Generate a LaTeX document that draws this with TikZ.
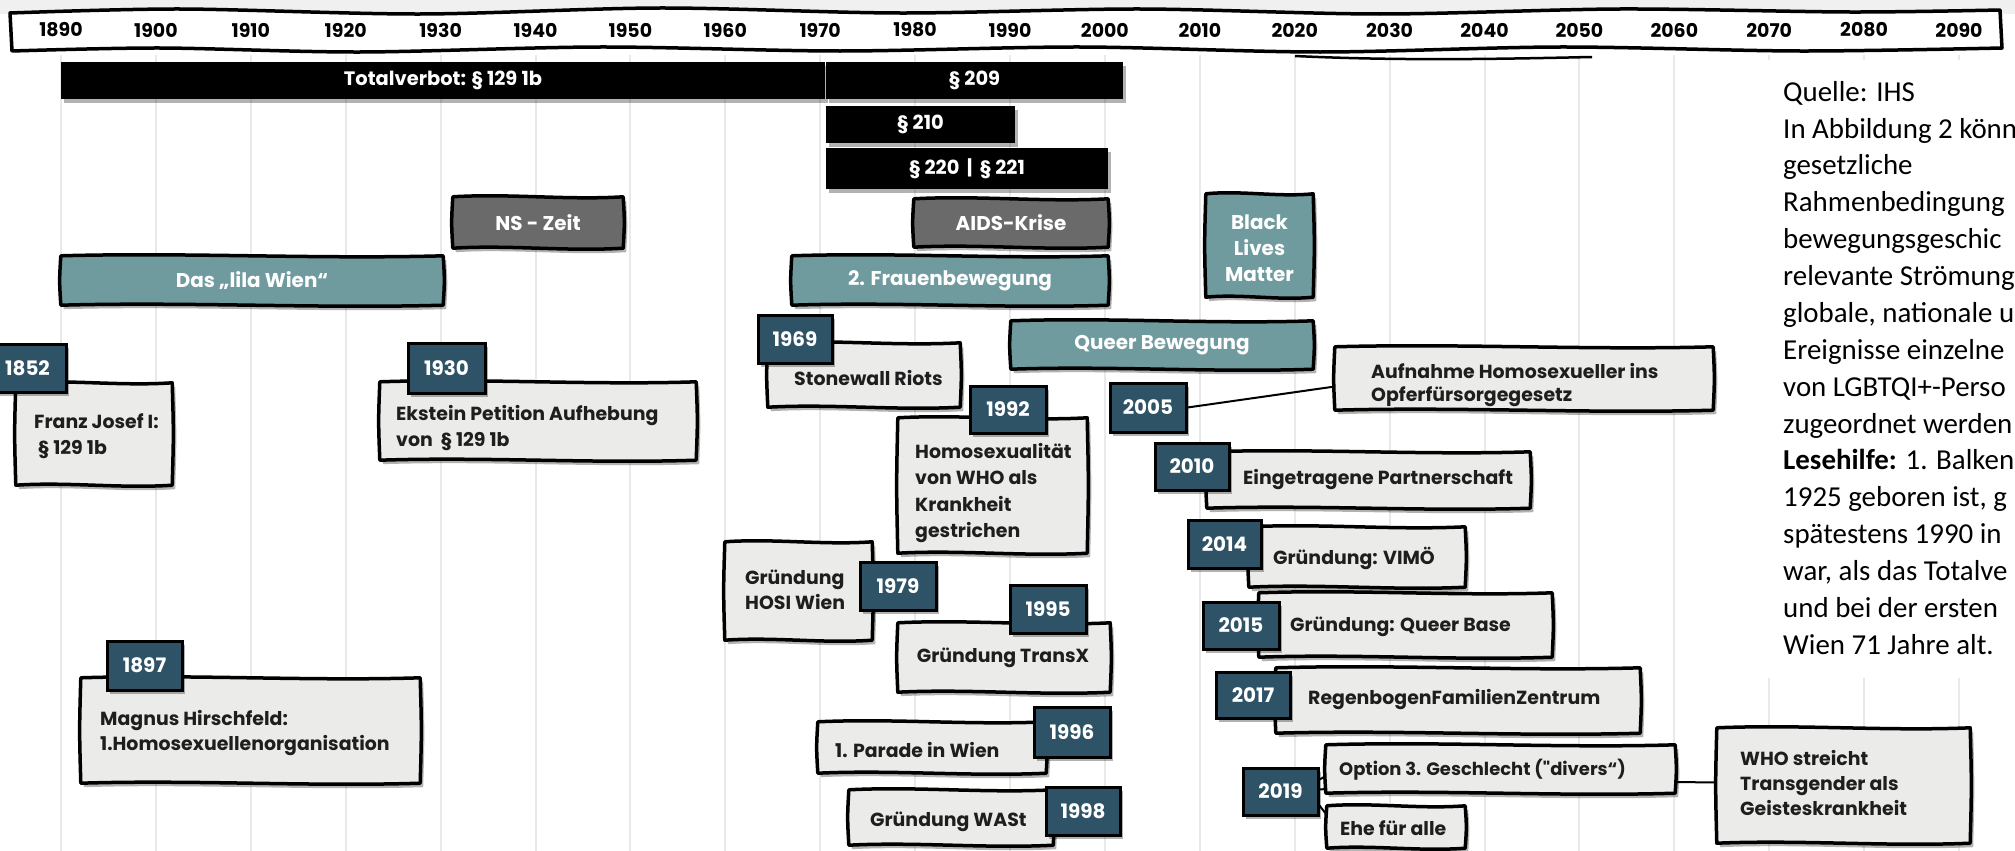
\documentclass[tikz,border=0pt]{standalone}
\usepackage{fontspec}
\setmainfont{Poppins}
\newfontfamily\popq{Poppins}[Ligatures=TeXOff]
\newfontfamily\cali{Carlito}
\usetikzlibrary{calc,shadows,fit}
\definecolor{tealc}{HTML}{6F9A9E}
\definecolor{tagblue}{HTML}{2E5266}
\definecolor{boxgray}{HTML}{EBEBE9}
\definecolor{nsgray}{HTML}{6A6A6A}
\definecolor{gridc}{HTML}{E9E9E9}
\definecolor{txt}{HTML}{1E1E1E}
\definecolor{topstrip}{HTML}{F0F0F0}

\tikzset{
 shad/.style={drop shadow={shadow xshift=3bp, shadow yshift=-4bp, opacity=.3, fill=black}},
 outl/.style={draw=black, line width=3.5bp, line join=round, shad},
 barnode/.style={fill=black, text=white, font=\bfseries\fontsize{19.5}{22}\selectfont, inner sep=0, shad},
 tagnode/.style={fill=tagblue, draw=black, line width=3bp, text=white, font=\bfseries\fontsize{20}{22}\selectfont, inner sep=0, shad},
 frame/.style={inner sep=0, draw=none},
 lbl/.style={text=txt, font=\bfseries\fontsize{19}{25.5}\selectfont, align=left, anchor=west, inner sep=0},
 wlbl/.style={text=white, font=\bfseries\fontsize{20}{26}\selectfont, align=center, inner sep=0},
 yearlbl/.style={text=black, font=\bfseries\fontsize{19}{20}\selectfont, inner sep=0},
 conn/.style={draw=black, line width=2bp},
}

\newcommand\rnode[7]{\node[#1, minimum width={((#5)-(#3))*1bp}, minimum height={((#6)-(#4))*1bp}] (#2) at ({((#3)+(#5))/2},{((#4)+(#6))/2}) {#7};}

\newcommand\wframe[6]{%
 \node[frame, fit={(#2,#3) (#4,#5)}] (#1) {};
 \path[outl, fill=#6] (#1.north west)
  .. controls ($(#1.north west)!0.33!(#1.north east)+(0,-3.5)$) and ($(#1.north west)!0.67!(#1.north east)+(0,3.5)$) .. (#1.north east)
  .. controls ($(#1.north east)!0.5!(#1.south east)+(1.5,0)$) .. (#1.south east)
  .. controls ($(#1.south east)!0.33!(#1.south west)+(0,3.5)$) and ($(#1.south east)!0.67!(#1.south west)+(0,-3.5)$) .. (#1.south west)
  .. controls ($(#1.south west)!0.5!(#1.north west)+(-1.5,0)$) .. (#1.north west) -- cycle;}

\begin{document}
\begin{tikzpicture}[x=1bp,y=-1bp]
\useasboundingbox (0,0) rectangle (2015,851);
\begin{scope}
\clip (0,0) rectangle (2015,851);
\fill[white] (0,0) rectangle (2015,851);
\fill[topstrip] (0,0) rectangle (2015,14);

% grid
\foreach \i in {0,...,20} \draw[gridc, line width=2bp] ({61+94.9*\i},55) -- ({61+94.9*\i},851);
\fill[white] (1762,60) rectangle (2015,678);

% banner
\draw[line width=3.5bp, fill=white, line join=round]
 plot[smooth] coordinates {(10,13) (180,9) (420,14) (660,8) (900,13) (1140,9) (1380,14) (1620,9) (1850,12) (2000,10)}
 -- plot[smooth] coordinates {(2002,48) (1800,51) (1560,47) (1320,52) (1080,47) (840,51) (600,47) (360,52) (160,48) (12,51)} -- cycle;
\draw[line width=2.5bp] (1295,56) .. controls (1400,61) and (1500,59) .. (1592,57);
\foreach \i [evaluate=\i as \yr using int(1890+10*\i)] in {0,...,20}
 \node[yearlbl] (yr\yr) at ({61+94.9*\i},30) {\yr};

% law bars
\rnode{barnode}{tv}{61}{62}{825}{99}{Totalverbot: § 129 1b}
\rnode{barnode}{p209}{826}{62}{1123}{99}{§ 209}
\rnode{barnode}{p210}{826}{106}{1015}{143}{§ 210}
\rnode{barnode}{p220}{826}{148}{1108}{189}{§ 220 \,|\, § 221}

% period frames
\wframe{lilab}{61}{256}{443}{305}{tealc}
\wframe{nsb}{453}{197}{623}{248}{nsgray}
\wframe{aidsb}{914}{199}{1108}{247}{nsgray}
\wframe{fraub}{792}{256}{1108}{305}{tealc}
\wframe{blmb}{1206}{194}{1313}{297}{tealc}
\wframe{queerb}{1011}{321}{1313}{369}{tealc}

\node[wlbl] (lilat) at (lilab.center) {Das „lila Wien“};
\node[wlbl] (nst) at (nsb.center) {NS - Zeit};
\node[wlbl] (aidst) at (aidsb.center) {AIDS-Krise};
\node[wlbl] (frant) at (fraub.center) {2. Frauenbewegung};
\node[wlbl] (blmt) at ([yshift=-3bp]blmb.center) {Black\\Lives\\Matter};
\node[wlbl] (queert) at (queerb.center) {Queer Bewegung};

% event frames
\wframe{franzb}{16}{383}{172}{485}{boxgray}
\wframe{eksteinb}{380}{382}{696}{460}{boxgray}
\wframe{magnusb}{81}{678}{420}{783}{boxgray}
\wframe{stoneb}{768}{343}{960}{407}{boxgray}
\wframe{homob}{898}{418}{1087}{553}{boxgray}
\wframe{hosib}{725}{542}{872}{640}{boxgray}
\wframe{transb}{898}{623}{1110}{692}{boxgray}
\wframe{paradeb}{818}{722}{1046}{773}{boxgray}
\wframe{wastb}{849}{790}{1053}{845}{boxgray}
\wframe{aufb}{1335}{347}{1713}{410}{boxgray}
\wframe{eingb}{1207}{452}{1530}{508}{boxgray}
\wframe{vimob}{1249}{527}{1465}{587}{boxgray}
\wframe{qbaseb}{1259}{593}{1552}{657}{boxgray}
\wframe{regenb}{1276}{668}{1640}{733}{boxgray}
\wframe{optb}{1326}{745}{1675}{793}{boxgray}
\wframe{eheb}{1327}{806}{1465}{848}{boxgray}
\wframe{whob}{1717}{728}{1970}{843}{boxgray}

\node[lbl] (franzt) at (34,436) {Franz Josef I:\\\ § 129 1b};
\node[lbl] (ekst) at (396,428) {Ekstein Petition Aufhebung\\von \ § 129 1b};
\node[lbl] (magt) at (100,733) {Magnus Hirschfeld:\\1.Homosexuellenorganisation};
\node[lbl] (stonet) at (794,378) {Stonewall Riots};
\node[lbl, font=\bfseries\fontsize{19}{26.5}\selectfont] (homot) at (915,493) {Homosexualität\\von WHO als\\Krankheit\\gestrichen};
\node[lbl] (hosit) at (745,590) {Gründung\\HOSI Wien};
\node[lbl, anchor=center] (transt) at (1003,658) {Gründung TransX};
\node[lbl] (paradet) at (835,750) {1. Parade in Wien};
\node[lbl] (wastt) at (870,822) {Gründung WASt};
\node[lbl, font=\bfseries\fontsize{19}{24}\selectfont] (auft) at (1371,385) {Aufnahme Homosexueller ins\\Opferfürsorgegesetz};
\node[lbl] (eingt) at (1243,480) {Eingetragene Partnerschaft};
\node[lbl] (vimot) at (1273,558) {Gründung: VIMÖ};
\node[lbl] (qbaset) at (1290,627) {Gründung: Queer Base};
\node[lbl] (regent) at (1308,700) {RegenbogenFamilienZentrum};
\node[lbl, font=\bfseries\fontsize{18}{24}\selectfont] (optt) at (1339,770) {Option 3. Geschlecht ({\popq"}divers“)};
\node[lbl] (ehet) at (1340,828) {Ehe für alle};
\node[lbl] (whot) at (1740,783) {WHO streicht\\Transgender als\\Geisteskrankheit};

% year tags
\rnode{tagnode}{t1852}{-11}{344}{66}{392}{1852}
\rnode{tagnode}{t1930}{408}{343}{485}{393}{1930}
\rnode{tagnode}{t1897}{107}{641}{182}{690}{1897}
\rnode{tagnode}{t1969}{758}{315}{832}{363}{1969}
\rnode{tagnode}{t1992}{970}{386}{1046}{433}{1992}
\rnode{tagnode}{t2005}{1110}{383}{1186}{432}{2005}
\rnode{tagnode}{t1979}{860}{562}{936}{610}{1979}
\rnode{tagnode}{t1995}{1010}{585}{1086}{633}{1995}
\rnode{tagnode}{t1996}{1034}{707}{1110}{757}{1996}
\rnode{tagnode}{t1998}{1046}{787}{1120}{835}{1998}
\rnode{tagnode}{t2010}{1155}{443}{1229}{490}{2010}
\rnode{tagnode}{t2014}{1188}{520}{1261}{568}{2014}
\rnode{tagnode}{t2015}{1203}{602}{1279}{649}{2015}
\rnode{tagnode}{t2017}{1216}{672}{1290}{718}{2017}
\rnode{tagnode}{t2019}{1243}{768}{1318}{815}{2019}

% connectors
\draw[conn] (t2005.east) -- ([yshift=-8bp]aufb.west);
\draw[conn] ([yshift=12bp]t2019.east) -- ([yshift=-7bp]optb.west);
\draw[conn] ([yshift=2bp]t2019.east) -- ([yshift=-20bp]optb.west);
\draw[conn] ([yshift=-14bp]t2019.east) -- ([yshift=12bp]eheb.west);
\draw[conn] ([yshift=-13bp]optb.east) -- ([yshift=3bp]whob.west);

% side text
\node[anchor=north west, align=left, inner sep=0, text=black, font=\cali\fontsize{29}{37}\selectfont] (sidetext) at (1783,81)
{Quelle: IHS\\In Abbildung 2 könn\\gesetzliche\\Rahmenbedingung\\bewegungsgeschic\\relevante Strömung\\globale, nationale u\\Ereignisse einzelne\\von LGBTQI+-Perso\\zugeordnet werden\\\textbf{Lesehilfe:} 1. Balken\\1925 geboren ist, g\\spätestens 1990 in\\war, als das Totalve\\und bei der ersten\\Wien 71 Jahre alt.};
\end{scope}
\end{tikzpicture}
\end{document}
